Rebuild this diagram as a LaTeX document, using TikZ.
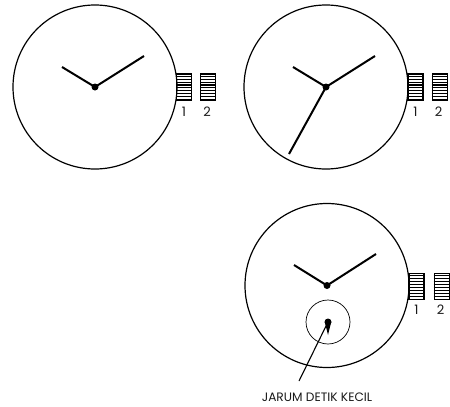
\documentclass[tikz,border=0pt]{standalone}
\usepackage{fontspec}
\setmainfont{Poppins}
\usetikzlibrary{positioning}

\begin{document}
\begin{tikzpicture}[
    x=1pt, y=-1pt,
    dialface/.style={
        circle,
        draw=black,
        line width=1.2pt,
        inner sep=0pt,
        minimum size=164pt
    },
    subdial/.style={
        circle,
        draw=black,
        line width=0.7pt,
        inner sep=0pt,
        minimum size=44pt
    },
    pivot/.style={
        circle,
        fill=black,
        inner sep=0pt,
        minimum size=7pt
    },
    crownbox/.style={
        rectangle,
        draw=black,
        line width=1.3pt,
        inner sep=0pt,
        minimum width=15pt,
        minimum height=26pt
    },
    crownlabel/.style={
        inner sep=0pt,
        font=\fontsize{13}{15}\selectfont,
        text=black!90
    },
    hand/.style={line width=2pt},
    pointer/.style={line width=1.1pt}
]
\useasboundingbox (0,0) rectangle (450,407);

% three dials
\node[dialface] (dialA) at (95,87) {};
\node[dialface] (dialB) at (326,87) {};
\node[dialface] (dialC) at (327,285.5) {};

\node[pivot] (pivotA) at (95,87) {};
\node[pivot] (pivotB) at (326,87) {};
\node[pivot] (pivotC) at (327,285.5) {};

% hands
\coordinate (hourA) at (62,67);
\coordinate (minA) at (144,56);
\coordinate (hourB) at (293,67);
\coordinate (minB) at (375,56);
\coordinate (secB) at (289,154);
\coordinate (hourC) at (294,265);
\coordinate (minC) at (376,254);

\draw[hand] (pivotA.center) -- (hourA);
\draw[hand] (pivotA.center) -- (minA);
\draw[hand] (pivotB.center) -- (hourB);
\draw[hand] (pivotB.center) -- (minB);
\draw[hand] (pivotB.center) -- (secB);
\draw[hand] (pivotC.center) -- (hourC);
\draw[hand] (pivotC.center) -- (minC);

% crowns
\foreach \name/\cx/\cy/\gap/\lab in {
    A/184/87/23/112,
    B/415.5/87/23/112,
    C/416.5/286.5/24/310}{
    \node[crownbox] (crown\name one) at (\cx,\cy) {};
    \node[crownbox, right=\gap pt-15pt of crown\name one] (crown\name two) {};
    \foreach \k in {1,...,8}{
        \draw[line width=1.1pt] ([yshift=-\k*2.9pt]crown\name one.north west) -- ([yshift=-\k*2.9pt]crown\name one.north east);
        \draw[line width=1.1pt] ([yshift=-\k*2.9pt]crown\name two.north west) -- ([yshift=-\k*2.9pt]crown\name two.north east);
    }
    \node[crownlabel] (label\name one) at (\cx,\lab) {1};
    \node[crownlabel] (label\name two) at (\cx+\gap,\lab) {2};
}

% small seconds
\node[subdial] (subdial) at (328,322) {};
\node[pivot] (subpivot) at (328,322) {};
\fill[black] (324.8,322) -- (331.2,322) -- (328,335) -- cycle;

\node[font=\fontsize{12.2}{14}\selectfont, inner sep=0pt, text=black!90] (sublabel) at (317,397) {JARUM DETIK KECIL};
\coordinate (pointerend) at (299,381);
\draw[pointer] (pointerend) -- (subpivot.center);

\end{tikzpicture}
\end{document}
